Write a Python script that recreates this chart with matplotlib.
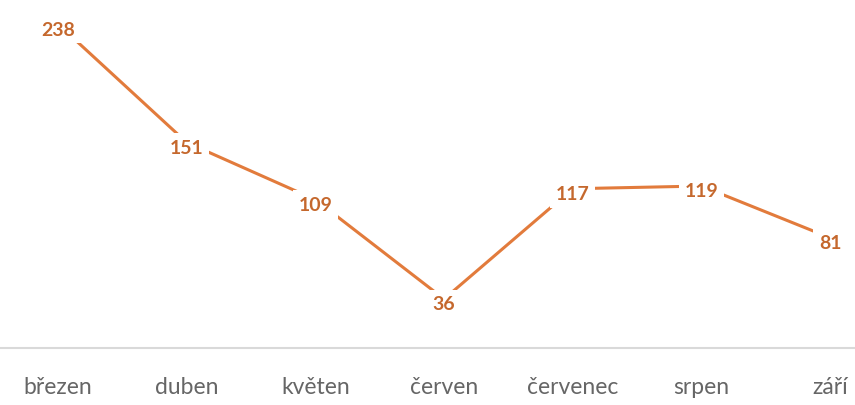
import matplotlib.pyplot as plt

# data
months = ["březen", "duben", "květen", "červen", "červenec", "srpen", "září"]
values = [238, 151, 109, 36, 117, 119, 81]

LINE_COLOR = "#E27B3C"
LABEL_COLOR = "#C5682D"
AXIS_COLOR = "#D9D9D9"
TICK_COLOR = "#666666"

plt.rcParams['font.family'] = ['Lato', 'DejaVu Sans']

fig = plt.figure(figsize=(8.55, 4.06), dpi=100)
ax = fig.add_axes([0, 57 / 406, 1, 349 / 406])

x = list(range(len(months)))
ax.plot(x, values, color=LINE_COLOR, linewidth=2.2, zorder=2)

# value labels sit on the points, white box hides the line behind them
for xi, v in zip(x, values):
    ax.annotate(str(v), (xi, v), xytext=(0, -2.5), textcoords='offset points',
                ha='center', va='center_baseline', fontsize=14,
                fontweight='bold', color=LABEL_COLOR, zorder=3,
                bbox=dict(boxstyle='square,pad=0.3', fc='white', ec='none'))

ax.set_xlim(-0.451, 6.194)
ax.set_ylim(0, 256.4)

for s in ['top', 'right', 'left']:
    ax.spines[s].set_visible(False)
ax.spines['bottom'].set_color(AXIS_COLOR)
ax.spines['bottom'].set_linewidth(1.5)

ax.set_yticks([])
ax.set_xticks(x)
ax.set_xticklabels(months, fontsize=16.5, color=TICK_COLOR)
ax.tick_params(axis='x', length=0, pad=20)

fig.savefig("out.png", dpi=100)
